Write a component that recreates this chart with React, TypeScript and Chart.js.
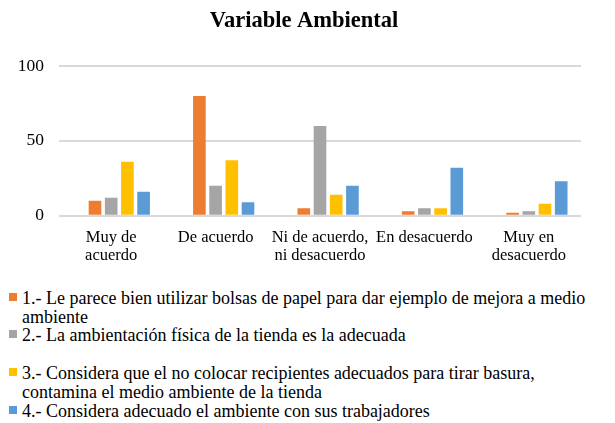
import React, { useEffect, useRef } from "react";
import { Chart, registerables } from "chart.js";

Chart.register(...registerables);

const title = "Variable Ambiental";
const categories: (string | string[])[] = [
  ["Muy de", "acuerdo"],
  "De acuerdo",
  ["Ni de acuerdo,", "ni desacuerdo"],
  "En desacuerdo",
  ["Muy en", "desacuerdo"],
];
const seriesLabels = [
  "1.- Le parece bien utilizar bolsas de papel para dar ejemplo de mejora a medio ambiente",
  "2.- La ambientación física de la tienda es la adecuada",
  "3.- Considera que el no colocar recipientes adecuados para tirar basura, contamina el medio ambiente de la tienda",
  "4.- Considera adecuado el ambiente con sus trabajadores",
];
const emptySeries: (number | null)[] = [null, null, null, null, null];
const series1 = [10, 80, 5, 3, 2];
const series2 = [12, 20, 60, 5, 3];
const series3 = [36, 37, 14, 5, 8];
const series4 = [16, 9, 20, 32, 23];
const seriesColors = ["#ED7D31", "#A5A5A5", "#FFC000", "#5B9BD5"];
const yTicks = [0, 50, 100];

const FONT = "'Liberation Serif', 'Times New Roman', serif";
const legendTops = [289, 326, 364, 402];

export default function App() {
  const ref = useRef<HTMLCanvasElement | null>(null);

  useEffect(() => {
    if (!ref.current) return;
    const values = [series1, series2, series3, series4];
    const chart = new Chart(ref.current, {
      type: "bar",
      data: {
        labels: categories,
        datasets: [
          { label: "", data: emptySeries, backgroundColor: "transparent" },
          ...values.map((d, i) => ({
            label: seriesLabels[i],
            data: d,
            backgroundColor: seriesColors[i],
            borderWidth: 0,
          })),
        ],
      },
      options: {
        responsive: false,
        animation: false,
        categoryPercentage: 0.776,
        barPercentage: 0.78,
        layout: { padding: { left: 0, right: 7, top: 0, bottom: 9 } },
        plugins: {
          legend: { display: false },
          tooltip: { enabled: false },
          title: {
            display: true,
            text: title,
            color: "#000",
            font: { family: FONT, size: 22.5, weight: "bold" },
            padding: { top: 8, bottom: 31 },
          },
        },
        scales: {
          x: {
            grid: { display: false, drawTicks: false },
            border: { display: false },
            ticks: {
              color: "#000",
              font: { family: FONT, size: 16.5, lineHeight: 1.1 },
              padding: 13,
              maxRotation: 0,
              autoSkip: false,
            },
          },
          y: {
            min: 0,
            max: 100,
            afterBuildTicks: (s: any) => {
              s.ticks = yTicks.map((v) => ({ value: v }));
            },
            afterFit: (s: any) => {
              s.width = 59;
            },
            grid: { color: "#d9d9d9", lineWidth: 2, drawTicks: false },
            border: { display: false },
            ticks: {
              color: "#000",
              font: { family: FONT, size: 17.5 },
              padding: 15,
            },
          },
          y2: {
            position: "right",
            display: true,
            grid: { display: false, drawTicks: false },
            border: { display: false },
            ticks: { display: false },
            afterFit: (s: any) => {
              s.width = 27;
            },
          },
        },
      } as any,
    });
    return () => chart.destroy();
  }, []);

  return (
    <div
      style={{
        position: "fixed",
        left: 0,
        top: 0,
        width: 615,
        height: 423,
        background: "#fff",
        fontFamily: FONT,
      }}
    >
      <canvas ref={ref} width={615} height={287} style={{ display: "block" }} />
      {seriesLabels.map((s, i) => (
        <div
          key={i}
          style={{
            position: "absolute",
            left: 0,
            top: legendTops[i],
            width: 615,
          }}
        >
          <div
            style={{
              position: "absolute",
              left: 9,
              top: 4,
              width: 8,
              height: 8,
              background: seriesColors[i],
            }}
          />
          <div
            style={{
              marginLeft: 22,
              width: 592,
              fontSize: 18,
              lineHeight: "19px",
              color: "#000",
              whiteSpace: "normal",
            }}
          >
            {s}
          </div>
        </div>
      ))}
    </div>
  );
}
